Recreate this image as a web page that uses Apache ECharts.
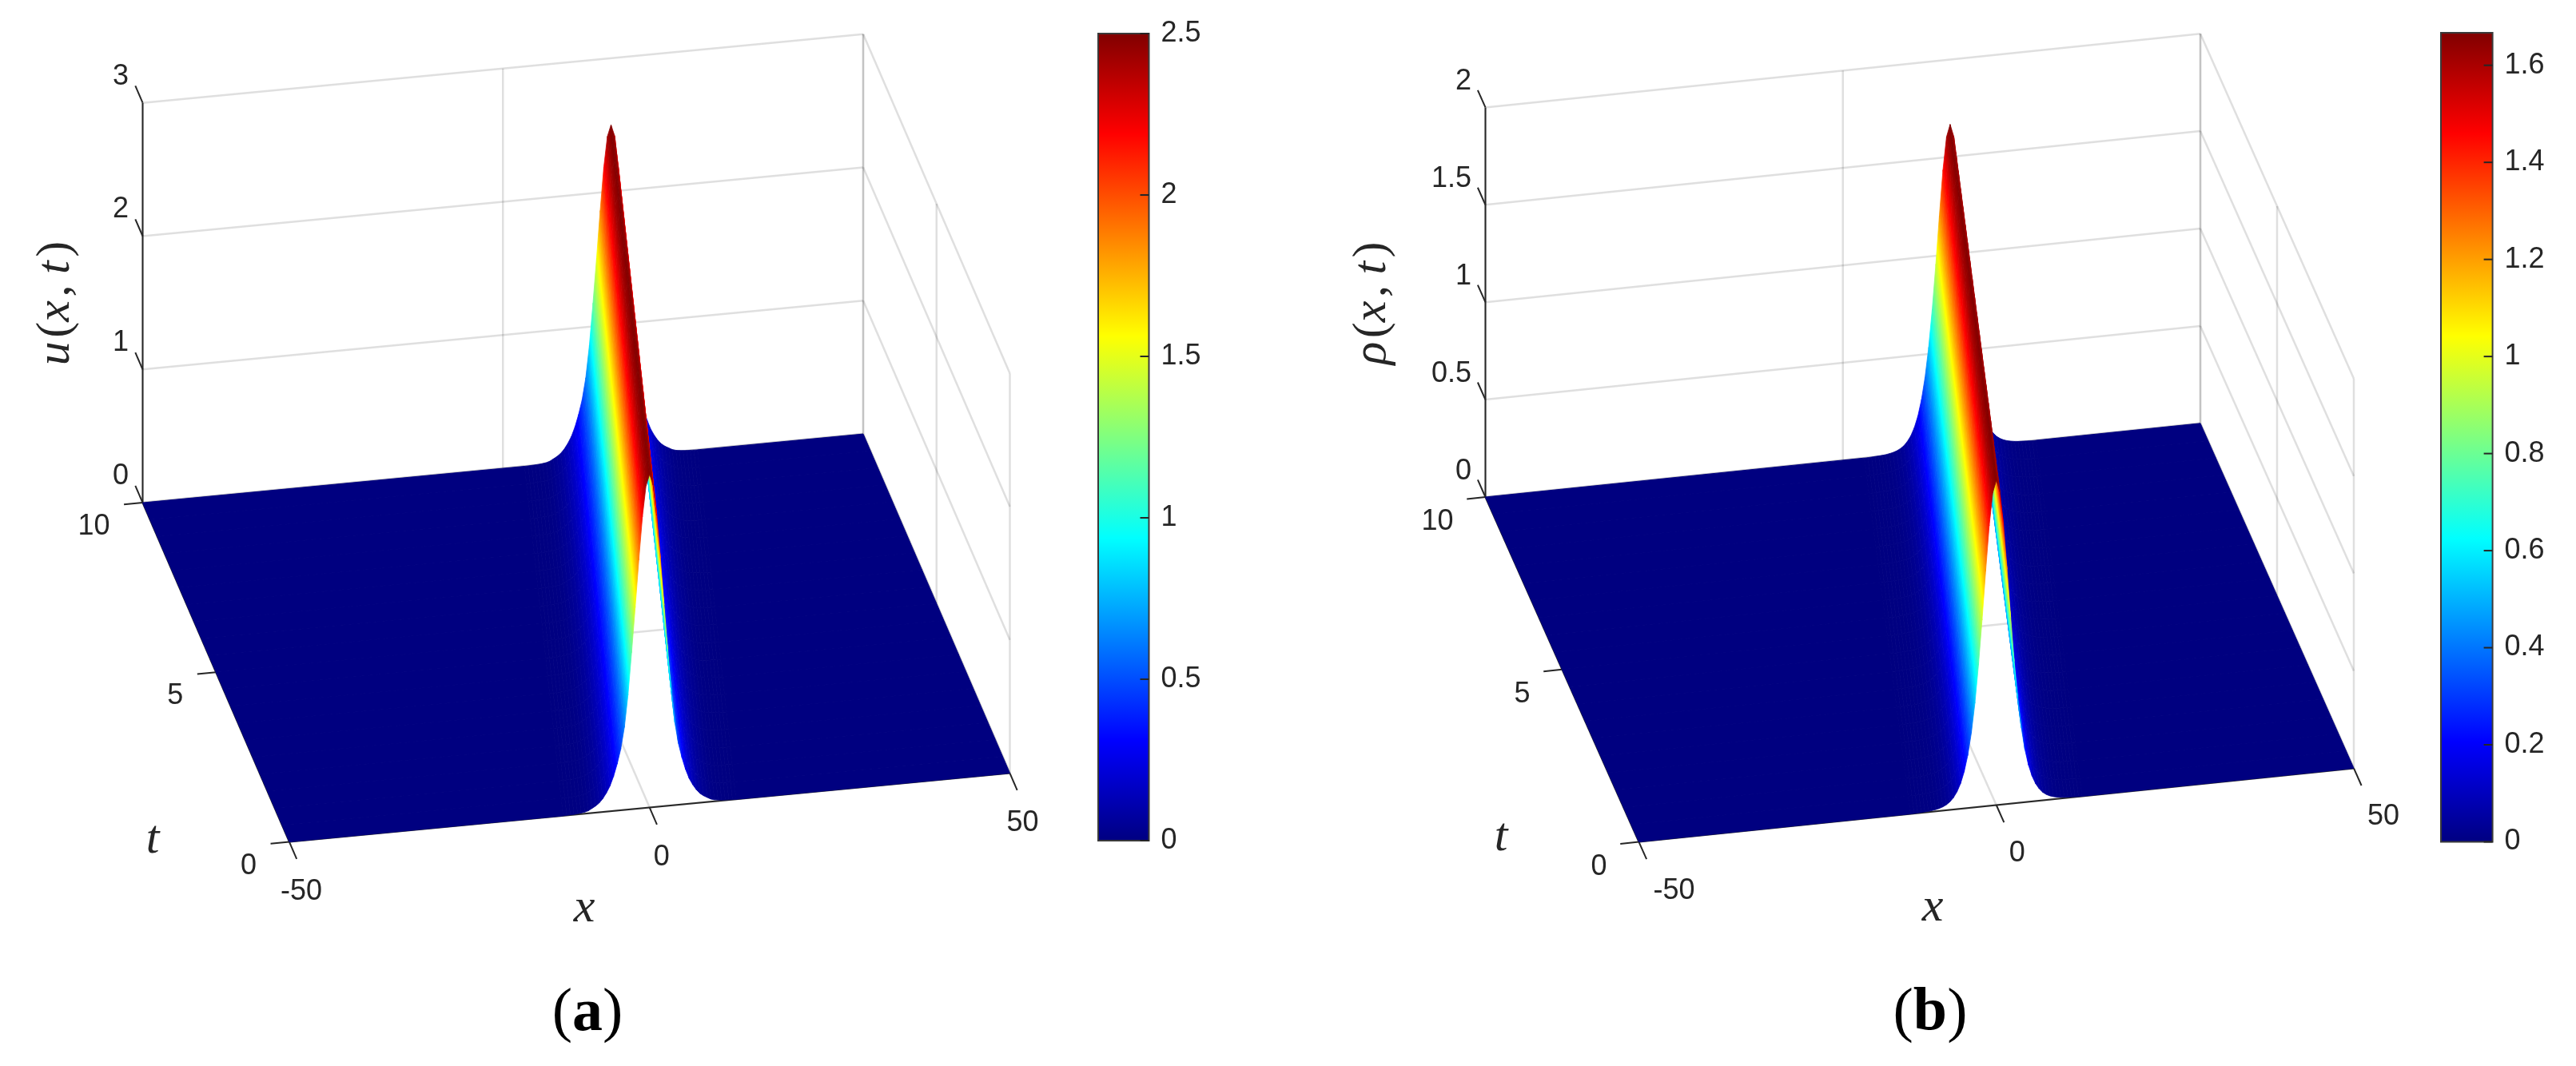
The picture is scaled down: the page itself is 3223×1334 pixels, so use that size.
<!DOCTYPE html>
<html>
<head>
<meta charset="utf-8">
<style>
  html, body { margin: 0; padding: 0; background: #fff; }
  #main { width: 3223px; height: 1334px; }
</style>
<script src="https://cdn.jsdelivr.net/npm/echarts@6/dist/echarts.min.js"></script>
</head>
<body>
<div id="main"></div>
<script>
// tick labels
const xTicks = [-50, 0, 50]
const tTicks = [0, 5, 10]
const uTicks = [0, 1, 2, 3]
const rhoTicks = [0, 0.5, 1, 1.5, 2]
const uBarTicks = [0, 0.5, 1, 1.5, 2, 2.5]
const rhoBarTicks = [0, 0.2, 0.4, 0.6, 0.8, 1, 1.2, 1.4, 1.6]

// time rows and where the crest sits on each of them
const tRows = [0, 0.5, 1, 1.5, 2, 2.5, 3, 3.5, 4, 4.5, 5, 5.5, 6, 6.5, 7, 7.5, 8, 8.5, 9, 9.5, 10]
const ridgeCenter = [0, 0.75, 1.5, 2.25, 3, 3.75, 4.5, 5.25, 6, 6.75, 7.5, 8.25, 9, 9.75, 10.5, 11.25, 12, 12.75, 13.5, 14.25, 15]

// height across the ridge, distance from the crest
const ridgeOffset = [
  -12, -11.5, -11, -10.5, -10, -9.5, -9, -8.5, -8, -7.5, -7, -6.5, -6, -5.5, -5, -4.5, -4, -3.5, -3, -2.5, -2, -1.5, -1, -0.5,
  0,
  0.5, 1, 1.5, 2, 2.5, 3, 3.5, 4, 4.5, 5, 5.5, 6, 6.5, 7, 7.5, 8, 8.5, 9, 9.5, 10, 10.5, 11, 11.5, 12
]
const uProfile = [
  0, 0.001, 0.002, 0.003, 0.005, 0.008, 0.012, 0.02, 0.035, 0.05, 0.07, 0.1, 0.14, 0.19, 0.26, 0.35, 0.46, 0.62, 0.86, 1.175, 1.511, 1.864, 2.187, 2.416,
  2.5,
  2.416, 2.187, 1.864, 1.511, 1.175, 0.86, 0.62, 0.46, 0.35, 0.26, 0.19, 0.14, 0.1, 0.07, 0.05, 0.035, 0.02, 0.012, 0.008, 0.005, 0.003, 0.002, 0.001, 0
]
const rhoProfile = [
  0, 0, 0.001, 0.002, 0.003, 0.004, 0.006, 0.009, 0.013, 0.019, 0.028, 0.041, 0.061, 0.089, 0.13, 0.188, 0.27, 0.383, 0.534, 0.728, 0.957, 1.205, 1.437, 1.605,
  1.667,
  1.605, 1.437, 1.205, 0.957, 0.728, 0.534, 0.383, 0.27, 0.188, 0.13, 0.089, 0.061, 0.041, 0.028, 0.019, 0.013, 0.009, 0.006, 0.004, 0.003, 0.002, 0.001, 0, 0
]

// jet colormap
const jetKnots = [0, 0.125, 0.375, 0.625, 0.875, 1]
const jetColors = [[0, 0, 128], [0, 0, 255], [0, 255, 255], [255, 255, 0], [255, 0, 0], [128, 0, 0]]

function jet (v) {
  v = Math.max(0, Math.min(1, v))
  let i = 0
  while (i < jetKnots.length - 2 && v > jetKnots[i + 1]) i++
  const f = (v - jetKnots[i]) / (jetKnots[i + 1] - jetKnots[i])
  const c = jetColors[i].map((a, k) => Math.round(a + (jetColors[i + 1][k] - a) * f))
  return 'rgb(' + c.join(',') + ')'
}

// colour stops between two heights, with the jet corners kept in
function jetStops (v0, v1) {
  const stops = [{ offset: 0, color: jet(v0) }]
  const lo = Math.min(v0, v1)
  const hi = Math.max(v0, v1)
  const inner = jetKnots.filter(k => k > lo && k < hi).map(k => ({ offset: (k - v0) / (v1 - v0), color: jet(k) }))
  inner.sort((a, b) => a.offset - b.offset)
  return stops.concat(inner, [{ offset: 1, color: jet(v1) }])
}

// view of each box: canvas position of (x=-50, t=0, z=0) and the three box edges
const panels = [
  {
    origin: [362, 1053.6], ex: [901.5, -86], et: [-183.5, -424.5], ez: [0, -500.4],
    zMax: 3, cMax: 2.5, zTicks: uTicks, profile: uProfile,
    xLabelDx: [15, 15, 16], xLabelDy: 62, tLabelDx: -41, tLabelDy: 30, zLabelDx: -17.5, zLabelDy: -33
  },
  {
    origin: [2050.5, 1053.6], ex: [894.5, -92.2], et: [-192, -431.6], ez: [0, -487.6],
    zMax: 2, cMax: 1.667, zTicks: rhoTicks, profile: rhoProfile,
    xLabelDx: [44, 26, 37], xLabelDy: 61, tLabelDx: -40, tLabelDy: 31, zLabelDx: -17.5, zLabelDy: -32
  }
]

function project (p, x, t, z) {
  const a = (x + 50) / 100
  const b = t / 10
  const c = z / p.zMax
  return [
    p.origin[0] + a * p.ex[0] + b * p.et[0] + c * p.ez[0],
    p.origin[1] + a * p.ex[1] + b * p.et[1] + c * p.ez[1]
  ]
}

// view ray in box coordinates, pointing away from the camera
function viewRay (p) {
  let r = [
    p.et[0] * p.ez[1] - p.ez[0] * p.et[1],
    p.ez[0] * p.ex[1] - p.ex[0] * p.ez[1],
    p.ex[0] * p.et[1] - p.et[0] * p.ex[1]
  ]
  if (r[1] < 0) r = r.map(v => -v)
  return r
}

function buildQuads (p) {
  const ray = viewRay(p)
  const quads = []
  const last = ridgeOffset.length - 1
  for (let i = 0; i < tRows.length - 1; i++) {
    const t0 = tRows[i]
    const t1 = tRows[i + 1]
    const c0 = ridgeCenter[i]
    const c1 = ridgeCenter[i + 1]
    for (let j = 0; j < last; j++) {
      const z0 = p.profile[j]
      const z1 = p.profile[j + 1]
      const x00 = c0 + ridgeOffset[j]
      const x01 = c0 + ridgeOffset[j + 1]
      const x11 = c1 + ridgeOffset[j + 1]
      const x10 = c1 + ridgeOffset[j]
      const mx = (x00 + x01 + x11 + x10) / 4
      const depth = ray[0] * mx / 100 + ray[1] * (t0 + t1) / 20 + ray[2] * (z0 + z1) / 2 / p.zMax
      quads.push({
        pts: [[x00, t0, z0], [x01, t0, z1], [x11, t1, z1], [x10, t1, z0]],
        c0: z0 / p.cMax,
        c1: z1 / p.cMax,
        depth
      })
    }
  }
  // far ones first
  quads.sort((a, b) => b.depth - a.depth)
  return quads
}

// flat part either side of the ridge
function buildFloor () {
  const floor = []
  for (let i = 0; i < tRows.length - 1; i++) {
    const left0 = ridgeCenter[i] + ridgeOffset[0]
    const left1 = ridgeCenter[i + 1] + ridgeOffset[0]
    const right0 = ridgeCenter[i] + ridgeOffset[ridgeOffset.length - 1]
    const right1 = ridgeCenter[i + 1] + ridgeOffset[ridgeOffset.length - 1]
    floor.push([[-50, tRows[i], 0], [left0, tRows[i], 0], [left1, tRows[i + 1], 0], [-50, tRows[i + 1], 0]])
    floor.push([[right0, tRows[i], 0], [50, tRows[i], 0], [50, tRows[i + 1], 0], [right1, tRows[i + 1], 0]])
  }
  return floor
}

function buildWalls (p) {
  const segs = []
  p.zTicks.forEach(z => {
    segs.push([[-50, 10, z], [50, 10, z]])
    segs.push([[50, 0, z], [50, 10, z]])
  })
  xTicks.forEach(x => {
    segs.push([[x, 10, 0], [x, 10, p.zMax]])
    segs.push([[x, 0, 0], [x, 10, 0]])
  })
  tTicks.forEach(t => {
    segs.push([[50, t, 0], [50, t, p.zMax]])
    segs.push([[-50, t, 0], [50, t, 0]])
  })
  return segs
}

function buildAxes (p) {
  const segs = [
    [[-50, 10, 0], [-50, 10, p.zMax]],
    [[-50, 0, 0], [-50, 10, 0]],
    [[-50, 0, 0], [50, 0, 0]]
  ]
  xTicks.forEach(x => segs.push([[x, 0, 0], [x, -0.5, 0]]))
  tTicks.forEach(t => segs.push([[-50, t, 0], [-52.6, t, 0]]))
  p.zTicks.forEach(z => segs.push([[-50, 10, z], [-50, 10.5, z]]))
  return segs
}

function buildLabels (p) {
  const font = '36px "Liberation Sans"'
  const out = []
  xTicks.forEach((x, i) => {
    const a = project(p, x, 0, 0)
    out.push({ text: String(x), pos: [a[0] + p.xLabelDx[i], a[1] + p.xLabelDy], align: 'center', font })
  })
  tTicks.forEach(t => {
    const a = project(p, -50, t, 0)
    out.push({ text: String(t), pos: [a[0] + p.tLabelDx, a[1] + p.tLabelDy], align: 'right', font })
  })
  p.zTicks.forEach(z => {
    const a = project(p, -50, 10, z)
    out.push({ text: String(z), pos: [a[0] + p.zLabelDx, a[1] + p.zLabelDy], align: 'right', font })
  })
  return out
}

function toCanvas (p, api, v) {
  return api.coord(project(p, v[0], v[1], v[2]))
}

function rowIndexData (list) {
  return list.map((d, i) => [i, 0])
}

function panelSeries (p) {
  const walls = buildWalls(p)
  const floor = buildFloor()
  const quads = buildQuads(p)
  const axes = buildAxes(p)
  const labels = buildLabels(p)
  const base = {
    type: 'custom',
    coordinateSystem: 'cartesian2d',
    xAxisIndex: 0,
    yAxisIndex: 0,
    silent: true,
    animation: false,
    progressive: 0,
    clip: false
  }
  const lineItem = (seg, api, stroke, width) => {
    const a = toCanvas(p, api, seg[0])
    const b = toCanvas(p, api, seg[1])
    return {
      type: 'line',
      shape: { x1: a[0], y1: a[1], x2: b[0], y2: b[1] },
      style: { stroke, lineWidth: width, fill: null }
    }
  }
  return [
    Object.assign({}, base, {
      z: 2,
      data: rowIndexData(walls),
      renderItem: (params, api) => lineItem(walls[params.dataIndex], api, 'rgba(38,38,38,0.15)', 2.5)
    }),
    Object.assign({}, base, {
      z: 3,
      data: rowIndexData(axes),
      renderItem: (params, api) => lineItem(axes[params.dataIndex], api, '#262626', 2)
    }),
    Object.assign({}, base, {
      z: 4,
      data: rowIndexData(floor),
      renderItem: (params, api) => {
        const color = jet(0)
        return {
          type: 'polygon',
          shape: { points: floor[params.dataIndex].map(v => toCanvas(p, api, v)) },
          style: { fill: color, stroke: color, lineWidth: 1 }
        }
      }
    }),
    Object.assign({}, base, {
      z: 5,
      data: rowIndexData(quads),
      renderItem: (params, api) => {
        const q = quads[params.dataIndex]
        const pts = q.pts.map(v => toCanvas(p, api, v))
        // fill runs across the ridge only, colour does not change along t
        const ax = pts[1][0] - pts[0][0]
        const ay = pts[1][1] - pts[0][1]
        const bx = pts[3][0] - pts[0][0]
        const by = pts[3][1] - pts[0][1]
        const k = (ax * bx + ay * by) / (bx * bx + by * by)
        const gx = ax - k * bx
        const gy = ay - k * by
        let fill = jet((q.c0 + q.c1) / 2)
        if (Math.hypot(gx, gy) > 0.3 && q.c0 !== q.c1) {
          fill = new echarts.graphic.LinearGradient(pts[0][0], pts[0][1], pts[0][0] + gx, pts[0][1] + gy, jetStops(q.c0, q.c1), true)
        }
        return {
          type: 'polygon',
          shape: { points: pts },
          style: { fill, stroke: fill, lineWidth: 0.8 }
        }
      }
    }),
    Object.assign({}, base, {
      z: 6,
      data: rowIndexData(labels),
      renderItem: (params, api) => {
        const l = labels[params.dataIndex]
        const a = api.coord(l.pos)
        return {
          type: 'text',
          x: a[0],
          y: a[1],
          style: { text: l.text, font: l.font, fill: '#262626', align: l.align, verticalAlign: 'middle' }
        }
      }
    })
  ]
}

function barSeries (axisIndex, max, ticks) {
  return {
    type: 'custom',
    coordinateSystem: 'cartesian2d',
    xAxisIndex: axisIndex,
    yAxisIndex: axisIndex,
    silent: true,
    animation: false,
    z: 8,
    data: [[0, max]],
    renderItem: (params, api) => {
      const a = api.coord([0, max])
      const b = api.coord([1, 0])
      const children = [{
        type: 'rect',
        shape: { x: a[0], y: a[1], width: b[0] - a[0], height: b[1] - a[1] },
        style: {
          fill: new echarts.graphic.LinearGradient(0, 1, 0, 0, jetStops(0, 1)),
          stroke: '#3a3a3a',
          lineWidth: 2
        }
      }]
      ticks.forEach(v => {
        const y = api.coord([1, v])[1]
        children.push({
          type: 'line',
          shape: { x1: b[0] - 11, y1: y, x2: b[0], y2: y },
          style: { stroke: '#262626', lineWidth: 2 }
        })
      })
      return { type: 'group', children }
    }
  }
}

function barAxis (gridIndex, max, interval, ticks) {
  return {
    type: 'value',
    gridIndex,
    position: 'right',
    min: 0,
    max,
    interval,
    axisLine: { show: false },
    splitLine: { show: false },
    axisTick: { show: false },
    axisLabel: {
      show: true,
      customValues: ticks,
      margin: 15,
      padding: [0, 0, 10, 0],
      color: '#262626',
      fontSize: 36,
      fontFamily: 'Liberation Sans',
      formatter: v => String(v)
    },
    z: 8
  }
}

function hiddenX (gridIndex, max) {
  return { type: 'value', gridIndex, min: 0, max, show: false }
}

function titleText (text, x, y, rotation, size) {
  const fontFamily = 'Liberation Serif'
  return {
    type: 'text',
    x,
    y,
    rotation,
    z: 20,
    silent: true,
    style: {
      text,
      align: 'center',
      verticalAlign: 'middle',
      fill: '#1a1a1a',
      rich: {
        i: { fontStyle: 'italic', fontSize: size, fontFamily, fill: '#262626', color: '#262626' },
        r: { fontSize: size, fontFamily, fill: '#262626', color: '#262626' },
        s: { fontSize: size * 0.3, fontFamily },
        b: { fontWeight: 'bold', fontSize: size, fontFamily, fill: '#000', color: '#000' },
        p: { fontSize: size, fontFamily, fill: '#000', color: '#000' }
      }
    }
  }
}

const chart = echarts.init(document.getElementById('main'))
chart.setOption({
  animation: false,
  backgroundColor: '#fff',
  grid: [
    { left: 0, top: 0, width: 3223, height: 1334 },
    { left: 1374, top: 42, width: 63.5, height: 1010 },
    { left: 3054, top: 41, width: 64.6, height: 1012.5 }
  ],
  xAxis: [hiddenX(0, 3223), hiddenX(1, 1), hiddenX(2, 1)],
  yAxis: [
    { type: 'value', gridIndex: 0, min: 0, max: 1334, inverse: true, show: false },
    barAxis(1, 2.5, 0.5, uBarTicks),
    barAxis(2, 1.667, 0.2, rhoBarTicks)
  ],
  series: panelSeries(panels[0]).concat(panelSeries(panels[1]), [barSeries(1, 2.5, uBarTicks), barSeries(2, 1.667, rhoBarTicks)]),
  graphic: [
    titleText('{i|u}{s| }{r|(}{i|x}{s| }{r|,}{s| }{s| }{s| }{i|t}{s| }{r|)}', 70, 379.5, Math.PI / 2, 60),
    titleText('{i|\u03c1}{s| }{r|(}{i|x}{s| }{r|,}{s| }{s| }{s| }{i|t}{s| }{r|)}', 1717, 379.5, Math.PI / 2, 60),
    titleText('{i|t}', 191, 1051, 0, 60),
    titleText('{i|x}', 731, 1137, 0, 60),
    titleText('{i|t}', 1878, 1048, 0, 60),
    titleText('{i|x}', 2418, 1136, 0, 60),
    titleText('{p|(}{b|a}{p|)}', 735, 1269.5, 0, 76),
    titleText('{p|(}{b|b}{p|)}', 2415, 1268.7, 0, 76)
  ]
})
</script>
</body>
</html>
